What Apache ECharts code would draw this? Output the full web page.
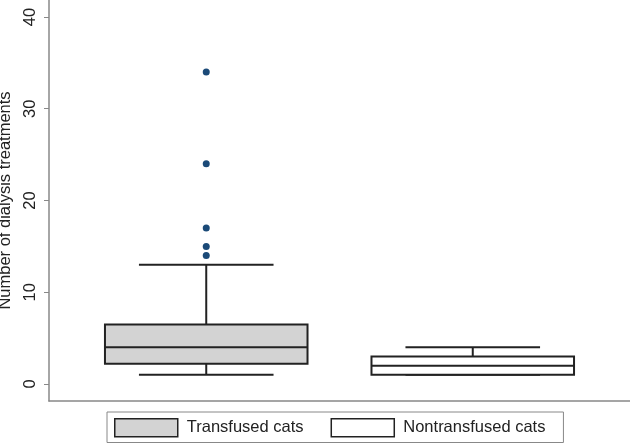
<!DOCTYPE html>
<html>
<head>
<meta charset="utf-8">
<script src="https://cdn.jsdelivr.net/npm/echarts@6/dist/echarts.min.js"></script>
<style>
  html, body { margin: 0; padding: 0; background: #fff; }
  #main { width: 630px; height: 445px; }
</style>
</head>
<body>
<div id="main"></div>
<script>
// groups and five-number summaries
const groups = ["Transfused cats", "Nontransfused cats"];
const whiskerLow = [1, 1];
const q1 = [2.2, 1];
const median = [4, 2];
const q3 = [6.5, 3];
const whiskerHigh = [13, 4];
const outliers = [[34, 24, 17, 15, 14], []];
const yTicks = [0, 10, 20, 30, 40];
const boxFills = ["#d3d3d3", "#ffffff"];

let renderBox = (params, api) => {
  let x = api.value(0);
  let lo = api.coord([x, api.value(1)]);
  let b1 = api.coord([x, api.value(2)]);
  let md = api.coord([x, api.value(3)]);
  let b3 = api.coord([x, api.value(4)]);
  let hi = api.coord([x, api.value(5)]);
  let boxW = api.size([0.76, 0])[0];
  let capW = api.size([0.505, 0])[0];
  let cx = lo[0];
  let stroke = { stroke: "#222", lineWidth: 2, fill: null };
  return {
    type: "group",
    children: [
      { type: "line", shape: { x1: cx, y1: lo[1], x2: cx, y2: hi[1] }, style: stroke },
      { type: "line", shape: { x1: cx - capW / 2, y1: lo[1], x2: cx + capW / 2, y2: lo[1] }, style: stroke },
      { type: "line", shape: { x1: cx - capW / 2, y1: hi[1], x2: cx + capW / 2, y2: hi[1] }, style: stroke },
      {
        type: "rect",
        shape: { x: cx - boxW / 2, y: b3[1], width: boxW, height: b1[1] - b3[1] },
        style: { fill: boxFills[params.seriesIndex], stroke: "#222", lineWidth: 2 },
      },
      { type: "line", shape: { x1: cx - boxW / 2, y1: md[1], x2: cx + boxW / 2, y2: md[1] }, style: stroke },
    ],
  };
};

let series = groups.map((g, i) => ({
  name: g,
  type: "custom",
  renderItem: renderBox,
  itemStyle: { color: boxFills[i] },
  encode: { x: 0, y: [1, 2, 3, 4, 5] },
  data: [[i + 1, whiskerLow[i], q1[i], median[i], q3[i], whiskerHigh[i]]],
  z: 2,
}));

let outlierData = [];
outliers.forEach((list, i) => {
  list.forEach((v) => outlierData.push([i + 1, v]));
});

series.push({
  name: "outliers",
  type: "scatter",
  symbolSize: 7,
  itemStyle: { color: "#1b4a78", opacity: 1 },
  data: outlierData,
  z: 3,
});

let option = {
  animation: false,
  backgroundColor: "#ffffff",
  textStyle: { fontFamily: "Liberation Sans, Arial, sans-serif" },
  grid: { left: 49, right: 0, top: 0, bottom: 44, outerBoundsMode: "none", containLabel: false },
  legend: {
    left: 107,
    top: 412,
    padding: [6, 18, 5, 7],
    borderColor: "#888",
    borderWidth: 1,
    itemWidth: 63,
    itemHeight: 18,
    itemGap: 27,
    textStyle: { fontSize: 16.5, color: "#222", padding: [0, 0, 0, 4] },
    data: groups.map((g, i) => ({
      name: g,
      icon: "rect",
      itemStyle: { color: boxFills[i], borderColor: "#222", borderWidth: 1.5 },
    })),
  },
  xAxis: {
    type: "value",
    min: 0.41,
    max: 2.59,
    axisLine: { show: true, onZero: false, lineStyle: { color: "#888", width: 1.5 } },
    axisTick: { show: false },
    axisLabel: { show: false },
    splitLine: { show: false },
  },
  yAxis: {
    type: "value",
    min: -1.85,
    max: 41.85,
    name: "Number of dialysis treatments",
    nameLocation: "middle",
    nameGap: 25,
    nameTextStyle: { fontSize: 16.5, color: "#222" },
    axisLine: { show: true, onZero: false, lineStyle: { color: "#888", width: 1.5 } },
    axisTick: { show: true, length: 5, customValues: yTicks, lineStyle: { color: "#888" } },
    axisLabel: {
      customValues: yTicks,
      rotate: 90,
      margin: 10,
      fontSize: 16.5,
      color: "#222",
    },
    splitLine: { show: false },
  },
  series: series,
};

var myChart = echarts.init(document.getElementById("main"));
myChart.setOption(option);
</script>
</body>
</html>
